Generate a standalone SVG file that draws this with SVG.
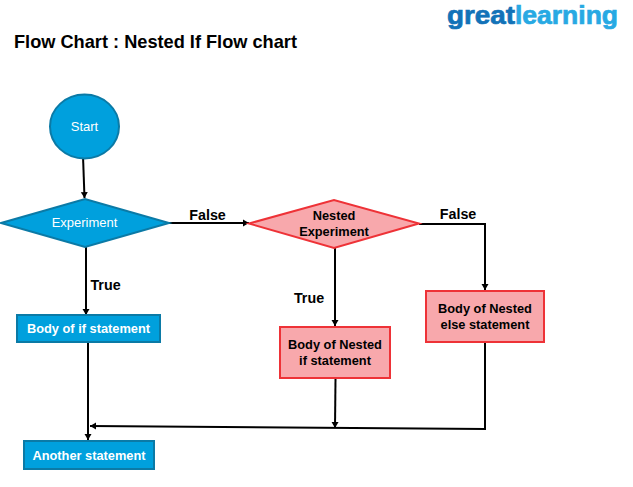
<svg xmlns="http://www.w3.org/2000/svg" width="633" height="487" viewBox="0 0 633 487">
<style>
text{font-family:"Liberation Sans",Arial,sans-serif;text-anchor:middle}
.blue{fill:#00a0dd;stroke:#0b7aa6;stroke-width:2}
.red{fill:#f8a8ac;stroke:#ee3237;stroke-width:2}
.w{fill:#fff;font-size:13px}
.wb{fill:#fff;font-size:12.800px;font-weight:bold}
.k{fill:#000;font-size:12.800px;font-weight:bold}
.l{fill:#000;font-size:14.300px;font-weight:bold}
.c{fill:none;stroke:#000;stroke-width:2}
.g{text-anchor:start;font-weight:bold;font-size:26px;stroke-width:0.700px}
</style>
<defs>
<marker id="a" markerUnits="userSpaceOnUse" markerWidth="8" markerHeight="8" refX="7" refY="4" orient="auto"><path d="M1 0.5L7 4L1 7.500z" fill="#000"/></marker>
</defs>
<rect width="633" height="487" fill="#fff"/>
<text id="title" x="14" y="48" style="text-anchor:start;font-size:18.200px;font-weight:bold" fill="#000">Flow Chart : Nested If Flow chart</text>
<g id="logo">
<text class="g" x="447" y="24" fill="#1272b8" stroke="#1272b8" textLength="68" lengthAdjust="spacingAndGlyphs">great</text>
<text class="g" x="515" y="24" fill="#27a9e3" stroke="#27a9e3" textLength="103" lengthAdjust="spacingAndGlyphs">learning</text>
</g>
<g id="connectors">
<path class="c" d="M83 156L84.500 198" marker-end="url(#a)"/>
<path class="c" d="M169 223H249" marker-end="url(#a)"/>
<path class="c" d="M86 247V315" marker-end="url(#a)"/>
<path class="c" d="M419 224H485V290" marker-end="url(#a)"/>
<path class="c" d="M335 248V326" marker-end="url(#a)"/>
<path class="c" d="M88 343V440" marker-end="url(#a)"/>
<path class="c" d="M335.500 379L335 428" marker-end="url(#a)"/>
<path class="c" d="M485 343V429L90 426" marker-end="url(#a)"/>
</g>
<g id="start"><ellipse class="blue" cx="84.500" cy="126.500" rx="34.500" ry="32"/><text class="w" x="84.500" y="131">Start</text></g>
<g id="experiment"><path class="blue" d="M1 223L85 199L169 223L85 247z"/><text class="w" x="84.500" y="227">Experiment</text></g>
<g id="nested-experiment"><path class="red" d="M249 223.500L334 200L419 223.500L334 248z"/><text class="k" x="334" y="220">Nested</text><text class="k" x="334" y="236">Experiment</text></g>
<g id="body-if"><rect class="blue" x="17" y="315" width="143" height="27"/><text class="wb" x="88.500" y="333">Body of if statement</text></g>
<g id="body-nested-if"><rect class="red" x="280" y="327" width="110" height="51"/><text class="k" x="335" y="349">Body of Nested</text><text class="k" x="335" y="365">if statement</text></g>
<g id="body-nested-else"><rect class="red" x="426" y="291" width="118" height="51"/><text class="k" x="485" y="313">Body of Nested</text><text class="k" x="485" y="329">else statement</text></g>
<g id="another"><rect class="blue" x="24" y="441" width="130" height="28"/><text class="wb" x="89" y="460">Another statement</text></g>
<g id="labels">
<text class="l" x="207.500" y="220">False</text>
<text class="l" x="458" y="219">False</text>
<text class="l" x="105.500" y="290">True</text>
<text class="l" x="309" y="303">True</text>
</g>
</svg>
